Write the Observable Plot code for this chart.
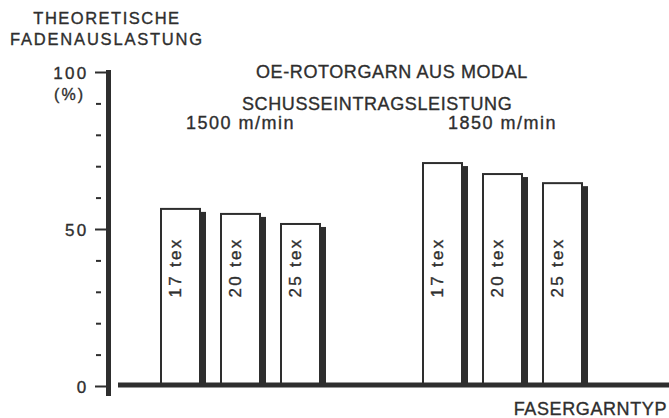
<!DOCTYPE html>
<html><head><meta charset="utf-8">
<script src="https://cdn.jsdelivr.net/npm/d3@7"></script>
<script src="https://cdn.jsdelivr.net/npm/@observablehq/plot@0.6"></script>
<style>
html,body{margin:0;padding:0;background:#fff;}
#wrap{position:relative;width:669px;height:418px;overflow:hidden;font-family:"Liberation Sans",Arial,Helvetica,sans-serif;color:#2e2e2e;}
.t{position:absolute;white-space:nowrap;line-height:1;-webkit-text-stroke:0.35px #2e2e2e;}
#wrap svg{position:absolute;left:0;top:0;}
#wrap svg text{stroke:#2e2e2e;stroke-width:0.35px;}
g[aria-label="fx-axis tick label"] text{letter-spacing:1.5px;}
g[aria-label="text"] text{letter-spacing:2.3px;}
</style></head><body>
<div id="wrap">
  <div class="t" style="left:0;width:214px;text-align:center;top:10px;font-size:16.5px;letter-spacing:1.5px;">THEORETISCHE</div>
  <div class="t" style="left:0;width:214px;text-align:center;top:31px;font-size:16.5px;letter-spacing:1.8px;">FADENAUSLASTUNG</div>
  <div class="t" style="right:584px;top:87px;font-size:16px;letter-spacing:2px;">(%)</div>
  <div class="t" style="left:256px;top:63px;font-size:18px;letter-spacing:0.6px;">OE-ROTORGARN AUS MODAL</div>
  <div class="t" style="left:242px;top:95px;font-size:18px;letter-spacing:0.6px;">SCHUSSEINTRAGSLEISTUNG</div>
  <div class="t" style="right:2px;top:400px;font-size:18px;letter-spacing:0.6px;">FASERGARNTYP</div>
</div>
<script>
const groups = ["1500 m/min", "1850 m/min"];
const yarns = ["17 tex", "20 tex", "25 tex"];
const values1500 = [56.4, 54.8, 51.6];
const values1850 = [71.0, 67.5, 64.6];
const yTicksMajor = [0, 50, 100];
const yTickLabels = ["0", "50", "100"];
const yTicksMinor = [10, 20, 30, 40, 60, 70, 80, 90];

const seriesByGroup = [values1500, values1850];
const rows = groups.flatMap((g, gi) => yarns.map((t, i) => ({group: g, yarn: t, value: seriesByGroup[gi][i]})));
const yLabelRows = yTicksMajor.map((v, i) => ({value: v, label: yTickLabels[i]}));
// the baseline is drawn once, from the last facet, reaching back to the y axis
const baselineRows = [{group: groups[groups.length - 1]}];

const ink = "#2e2e2e";
const chart = Plot.plot({
  width: 669,
  height: 418,
  marginLeft: 109,
  marginRight: 36,
  marginTop: 72,
  marginBottom: 32,
  style: {fontFamily: "Liberation Sans, Arial, Helvetica, sans-serif", color: ink, background: "transparent", overflow: "visible"},
  fx: {domain: groups, padding: 0, label: null},
  x: {domain: yarns, paddingInner: 0.35, paddingOuter: 0.858, axis: null},
  y: {domain: [0, 100], label: null},
  marks: [
    Plot.axisFx({anchor: "top", label: null, tickSize: 0, dy: 65, fontSize: 18}),
    Plot.barY(rows, {fx: "group", x: "yarn", y: "value", fill: ink, dx: 6, insetTop: 3}),
    Plot.barY(rows, {fx: "group", x: "yarn", y: "value", fill: "white", stroke: ink, strokeWidth: 2}),
    Plot.text(rows, {fx: "group", x: "yarn", text: "yarn", frameAnchor: "bottom", dy: -119, rotate: -90, textAnchor: "middle", fontSize: 17, fill: ink}),
    Plot.frame({anchor: "left", facetAnchor: "left", stroke: ink, strokeWidth: 5, dx: -1, insetBottom: -7}),
    Plot.axisY({ticks: yTicksMajor, label: null, tickSize: 14, text: null, strokeWidth: 2}),
    Plot.text(yLabelRows, {y: "value", text: "label", frameAnchor: "left", facetAnchor: "left", dx: -21, dy: 1, textAnchor: "end", fontSize: 17, fill: ink}),
    Plot.axisY({ticks: yTicksMinor, label: null, tickSize: 5, dx: -8, text: null, strokeWidth: 2}),
    Plot.ruleY(baselineRows, {fx: "group", y: () => 0, stroke: ink, strokeWidth: 5, insetLeft: -253, insetRight: -36, dy: -1.5})
  ]
});
document.getElementById("wrap").prepend(chart);
</script>
</body></html>
